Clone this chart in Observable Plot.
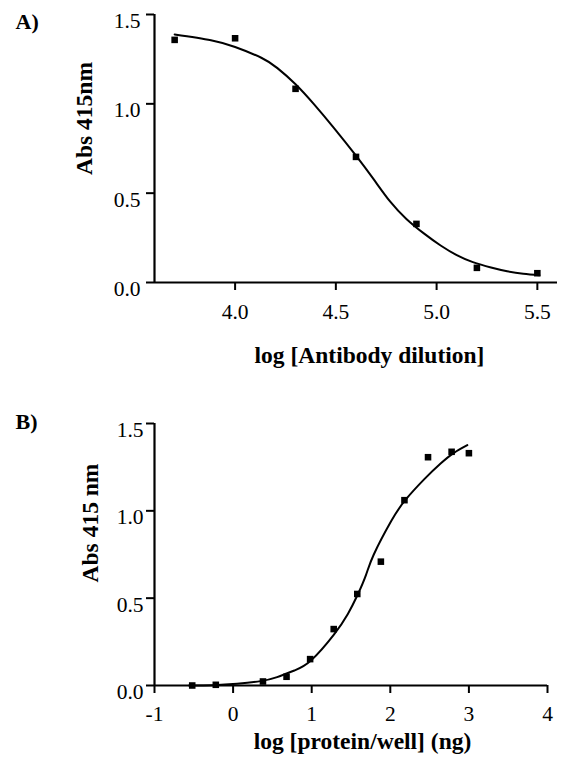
<!DOCTYPE html>
<html><head><meta charset="utf-8">
<script src="https://cdn.jsdelivr.net/npm/d3@7"></script>
<script src="https://cdn.jsdelivr.net/npm/@observablehq/plot@0.6"></script>
<style>
body{margin:0;background:#fff}
svg{display:block}
</style>
</head><body><div id="chart"></div>
<script>
// ---- text ----
const panelLabels = ["A)", "B)"];
const yAxisLabels = ["Abs 415nm", "Abs 415 nm"];
const xAxisLabels = ["log [Antibody dilution]", "log [protein/well] (ng)"];

// ---- panel A ----
const aXTicks = [4.0, 4.5, 5.0, 5.5];
const aYTicks = [0, 0.5, 1.0, 1.5];
const aPointX = [3.7, 4.0, 4.3, 4.6, 4.9, 5.2, 5.5];
const aPointY = [1.358, 1.367, 1.084, 0.703, 0.328, 0.082, 0.052];
const aCurveX = [3.70, 3.88, 4.00, 4.13, 4.21, 4.30, 4.39, 4.49, 4.60, 4.69, 4.77, 4.85, 4.94, 5.02, 5.10, 5.18, 5.27, 5.35, 5.43, 5.51];
const aCurveY = [1.388, 1.356, 1.318, 1.258, 1.200, 1.110, 1.0, 0.866, 0.71, 0.574, 0.452, 0.356, 0.272, 0.207, 0.153, 0.114, 0.084, 0.063, 0.049, 0.041];

// ---- panel B ----
const bXTicks = [-1, 0, 1, 2, 3, 4];
const bYTicks = [0, 0.5, 1.0, 1.5];
const bPointX = [-0.52, -0.22, 0.38, 0.68, 0.98, 1.28, 1.58, 1.88, 2.18, 2.48, 2.78, 3.0];
const bPointY = [0.0, 0.004, 0.023, 0.05, 0.151, 0.323, 0.524, 0.709, 1.061, 1.307, 1.338, 1.33];
const bCurveX = [-0.56, -0.25, 0.05, 0.35, 0.56, 0.78, 0.99, 1.28, 1.46, 1.58, 1.69, 1.79, 2.01, 2.19, 2.43, 2.64, 2.81, 2.98];
const bCurveY = [0.0, 0.002, 0.01, 0.025, 0.048, 0.086, 0.143, 0.29, 0.41, 0.515, 0.632, 0.75, 0.94, 1.061, 1.18, 1.271, 1.332, 1.376];

const serif = "'Liberation Serif', 'Times New Roman', Times, serif";

function panel(cfg) {
  const pts = cfg.px.map((x, i) => ({x, y: cfg.py[i]}));
  const crv = cfg.cx.map((x, i) => ({x, y: cfg.cy[i]}));
  return Plot.plot({
    width: 562,
    height: cfg.height,
    marginTop: cfg.mt, marginBottom: cfg.mb, marginLeft: 154, marginRight: cfg.mr,
    style: {fontFamily: serif, fontSize: "21px", color: "black", background: "white"},
    x: {domain: cfg.xDomain},
    y: {domain: [0, 1.5]},
    marks: [
      Plot.ruleX([cfg.xDomain[0]], {strokeWidth: 2.2}),
      Plot.ruleY([0], {strokeWidth: 2.2}),
      Plot.axisX(cfg.xTicks, {tickSize: 8, strokeWidth: 2, fill: "none", label: null}),
      Plot.axisX(cfg.xTicks, {tickSize: 8, stroke: "none", tickPadding: cfg.xPad, tickFormat: cfg.xFmt, fontSize: 21.5, label: null}),
      Plot.axisY(cfg.yTicks, {tickSize: 8, strokeWidth: 2, fill: "none", label: null}),
      Plot.axisY(cfg.yTicks, {tickSize: 8, stroke: "none", tickPadding: cfg.yPad, dy: 6.5, tickFormat: d3.format(".1f"), fontSize: 21.5, label: null}),
      Plot.line(crv, {x: "x", y: "y", curve: "natural", strokeWidth: 2, stroke: "black"}),
      Plot.dot(pts, {x: "x", y: "y", symbol: "square", r: 3.7, fill: "black", stroke: "none"}),
      Plot.text([cfg.title], {text: d => d, frameAnchor: "top-left", textAnchor: "start", lineAnchor: "top", dx: -139, dy: cfg.titleDy, fontWeight: "bold", fontSize: 22}),
      Plot.text([cfg.yLabel], {text: d => d, frameAnchor: "left", rotate: -90, textAnchor: "middle", lineAnchor: "middle", dx: cfg.yLabDx, dy: cfg.yLabDy, fontWeight: "bold", fontSize: 23.5}),
      Plot.text([cfg.xLabel], {text: d => d, frameAnchor: "bottom", textAnchor: "middle", lineAnchor: "top", dx: cfg.xLabDx, dy: cfg.xLabDy, fontWeight: "bold", fontSize: 23.5})
    ]
  });
}

const chart = document.getElementById("chart");
chart.append(panel({
  height: 380, mt: 14, mb: 98, mr: 5,
  xDomain: [3.6, 5.6], xTicks: aXTicks, xFmt: d3.format(".1f"), xPad: 13,
  yTicks: aYTicks, yPad: 6,
  px: aPointX, py: aPointY, cx: aCurveX, cy: aCurveY,
  title: panelLabels[0], titleDy: -1,
  yLabel: yAxisLabels[0], yLabDx: -70, yLabDy: -30,
  xLabel: xAxisLabels[0], xLabDx: 13.5, xLabDy: 64
}));
chart.append(panel({
  height: 377, mt: 43, mb: 72, mr: 15,
  xDomain: [-1, 4], xTicks: bXTicks, xFmt: d => String(d), xPad: 12,
  yTicks: bYTicks, yPad: 3,
  px: bPointX, py: bPointY, cx: bCurveX, cy: bCurveY,
  title: panelLabels[1], titleDy: -10,
  yLabel: yAxisLabels[1], yLabDx: -64, yLabDy: -31.5,
  xLabel: xAxisLabels[1], xLabDx: 11.5, xLabDy: 47
}));
</script>
</body></html>
